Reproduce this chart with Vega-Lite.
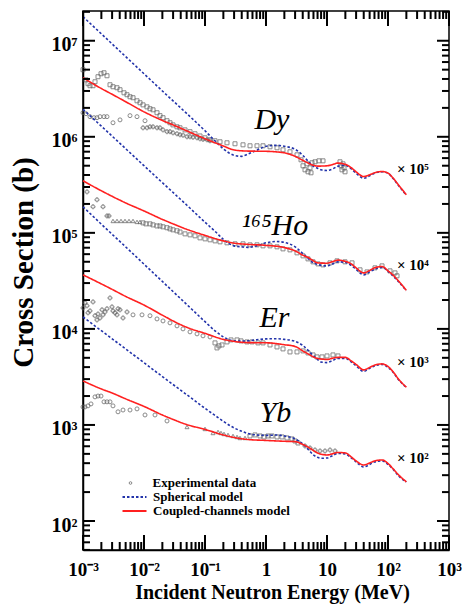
{
  "$schema": "https://vega.github.io/schema/vega-lite/v6.json",
  "width": 366,
  "height": 539,
  "autosize": "none",
  "padding": {"left": 83, "top": 11, "right": 17, "bottom": 55},
  "background": "white",
  "datasets": {
    "xticks": [
      {"E":0.001,"level":"major"},{"E":0.002,"level":"minor"},{"E":0.003,"level":"minor"},{"E":0.004,"level":"minor"},{"E":0.005,"level":"minor"},{"E":0.006,"level":"minor"},{"E":0.007,"level":"minor"},{"E":0.008,"level":"minor"},{"E":0.009,"level":"minor"},
      {"E":0.01,"level":"major"},{"E":0.02,"level":"minor"},{"E":0.03,"level":"minor"},{"E":0.04,"level":"minor"},{"E":0.05,"level":"minor"},{"E":0.06,"level":"minor"},{"E":0.07,"level":"minor"},{"E":0.08,"level":"minor"},{"E":0.09,"level":"minor"},
      {"E":0.1,"level":"major"},{"E":0.2,"level":"minor"},{"E":0.3,"level":"minor"},{"E":0.4,"level":"minor"},{"E":0.5,"level":"minor"},{"E":0.6,"level":"minor"},{"E":0.7,"level":"minor"},{"E":0.8,"level":"minor"},{"E":0.9,"level":"minor"},
      {"E":1,"level":"major"},{"E":2,"level":"minor"},{"E":3,"level":"minor"},{"E":4,"level":"minor"},{"E":5,"level":"minor"},{"E":6,"level":"minor"},{"E":7,"level":"minor"},{"E":8,"level":"minor"},{"E":9,"level":"minor"},
      {"E":10,"level":"major"},{"E":20,"level":"minor"},{"E":30,"level":"minor"},{"E":40,"level":"minor"},{"E":50,"level":"minor"},{"E":60,"level":"minor"},{"E":70,"level":"minor"},{"E":80,"level":"minor"},{"E":90,"level":"minor"},
      {"E":100,"level":"major"},{"E":200,"level":"minor"},{"E":300,"level":"minor"},{"E":400,"level":"minor"},{"E":500,"level":"minor"},{"E":600,"level":"minor"},{"E":700,"level":"minor"},{"E":800,"level":"minor"},{"E":900,"level":"minor"},
      {"E":1000,"level":"major"}
    ],
    "yticks": [
      {"sigma":50,"level":"minor"},{"sigma":60,"level":"minor"},{"sigma":70,"level":"minor"},{"sigma":80,"level":"minor"},{"sigma":90,"level":"minor"},
      {"sigma":100,"level":"major"},{"sigma":200,"level":"minor"},{"sigma":300,"level":"minor"},{"sigma":400,"level":"minor"},{"sigma":500,"level":"minor"},{"sigma":600,"level":"minor"},{"sigma":700,"level":"minor"},{"sigma":800,"level":"minor"},{"sigma":900,"level":"minor"},
      {"sigma":1000,"level":"major"},{"sigma":2000,"level":"minor"},{"sigma":3000,"level":"minor"},{"sigma":4000,"level":"minor"},{"sigma":5000,"level":"minor"},{"sigma":6000,"level":"minor"},{"sigma":7000,"level":"minor"},{"sigma":8000,"level":"minor"},{"sigma":9000,"level":"minor"},
      {"sigma":10000,"level":"major"},{"sigma":20000,"level":"minor"},{"sigma":30000,"level":"minor"},{"sigma":40000,"level":"minor"},{"sigma":50000,"level":"minor"},{"sigma":60000,"level":"minor"},{"sigma":70000,"level":"minor"},{"sigma":80000,"level":"minor"},{"sigma":90000,"level":"minor"},
      {"sigma":100000,"level":"major"},{"sigma":200000,"level":"minor"},{"sigma":300000,"level":"minor"},{"sigma":400000,"level":"minor"},{"sigma":500000,"level":"minor"},{"sigma":600000,"level":"minor"},{"sigma":700000,"level":"minor"},{"sigma":800000,"level":"minor"},{"sigma":900000,"level":"minor"},
      {"sigma":1000000,"level":"major"},{"sigma":2000000,"level":"minor"},{"sigma":3000000,"level":"minor"},{"sigma":4000000,"level":"minor"},{"sigma":5000000,"level":"minor"},{"sigma":6000000,"level":"minor"},{"sigma":7000000,"level":"minor"},{"sigma":8000000,"level":"minor"},{"sigma":9000000,"level":"minor"},
      {"sigma":10000000,"level":"major"},{"sigma":20000000,"level":"minor"}
    ],
    "curves": [
      {"nucleus":"Dy","model":"Spherical model","E":0.001,"sigma":17800000},
      {"nucleus":"Dy","model":"Spherical model","E":0.002,"sigma":11800000},
      {"nucleus":"Dy","model":"Spherical model","E":0.005,"sigma":6840000},
      {"nucleus":"Dy","model":"Spherical model","E":0.01,"sigma":4530000},
      {"nucleus":"Dy","model":"Spherical model","E":0.02,"sigma":3000000},
      {"nucleus":"Dy","model":"Spherical model","E":0.05,"sigma":1750000},
      {"nucleus":"Dy","model":"Spherical model","E":0.1,"sigma":1155000},
      {"nucleus":"Dy","model":"Spherical model","E":0.15,"sigma":890000},
      {"nucleus":"Dy","model":"Spherical model","E":0.2,"sigma":750000},
      {"nucleus":"Dy","model":"Spherical model","E":0.3,"sigma":642000},
      {"nucleus":"Dy","model":"Spherical model","E":0.4,"sigma":626000},
      {"nucleus":"Dy","model":"Spherical model","E":0.5,"sigma":658000},
      {"nucleus":"Dy","model":"Spherical model","E":0.7,"sigma":723000},
      {"nucleus":"Dy","model":"Spherical model","E":1,"sigma":796000},
      {"nucleus":"Dy","model":"Spherical model","E":1.5,"sigma":815000},
      {"nucleus":"Dy","model":"Spherical model","E":2,"sigma":796000},
      {"nucleus":"Dy","model":"Spherical model","E":3,"sigma":741000},
      {"nucleus":"Dy","model":"Spherical model","E":4,"sigma":642000},
      {"nucleus":"Dy","model":"Spherical model","E":5,"sigma":549000},
      {"nucleus":"Dy","model":"Spherical model","E":6,"sigma":493000},
      {"nucleus":"Dy","model":"Spherical model","E":7,"sigma":470000},
      {"nucleus":"Dy","model":"Spherical model","E":8,"sigma":453000},
      {"nucleus":"Dy","model":"Spherical model","E":10,"sigma":446000},
      {"nucleus":"Dy","model":"Spherical model","E":12,"sigma":459000},
      {"nucleus":"Dy","model":"Spherical model","E":15,"sigma":493000},
      {"nucleus":"Dy","model":"Spherical model","E":20,"sigma":505000},
      {"nucleus":"Dy","model":"Spherical model","E":25,"sigma":464000},
      {"nucleus":"Dy","model":"Spherical model","E":30,"sigma":417000},
      {"nucleus":"Dy","model":"Spherical model","E":40,"sigma":370000},
      {"nucleus":"Dy","model":"Spherical model","E":50,"sigma":393000},
      {"nucleus":"Dy","model":"Spherical model","E":60,"sigma":417000},
      {"nucleus":"Dy","model":"Spherical model","E":80,"sigma":432000},
      {"nucleus":"Dy","model":"Spherical model","E":100,"sigma":417000},
      {"nucleus":"Dy","model":"Spherical model","E":120,"sigma":370000},
      {"nucleus":"Dy","model":"Spherical model","E":150,"sigma":309000},
      {"nucleus":"Dy","model":"Spherical model","E":200,"sigma":246000},

      {"nucleus":"Ho","model":"Spherical model","E":0.001,"sigma":1930000},
      {"nucleus":"Ho","model":"Spherical model","E":0.002,"sigma":1290000},
      {"nucleus":"Ho","model":"Spherical model","E":0.005,"sigma":752000},
      {"nucleus":"Ho","model":"Spherical model","E":0.01,"sigma":500000},
      {"nucleus":"Ho","model":"Spherical model","E":0.02,"sigma":333000},
      {"nucleus":"Ho","model":"Spherical model","E":0.05,"sigma":195000},
      {"nucleus":"Ho","model":"Spherical model","E":0.1,"sigma":129000},
      {"nucleus":"Ho","model":"Spherical model","E":0.15,"sigma":102000},
      {"nucleus":"Ho","model":"Spherical model","E":0.2,"sigma":85500},
      {"nucleus":"Ho","model":"Spherical model","E":0.3,"sigma":73200},
      {"nucleus":"Ho","model":"Spherical model","E":0.4,"sigma":71500},
      {"nucleus":"Ho","model":"Spherical model","E":0.5,"sigma":70600},
      {"nucleus":"Ho","model":"Spherical model","E":0.7,"sigma":73200},
      {"nucleus":"Ho","model":"Spherical model","E":1,"sigma":78700},
      {"nucleus":"Ho","model":"Spherical model","E":1.5,"sigma":81200},
      {"nucleus":"Ho","model":"Spherical model","E":2,"sigma":79600},
      {"nucleus":"Ho","model":"Spherical model","E":3,"sigma":71500},
      {"nucleus":"Ho","model":"Spherical model","E":4,"sigma":61100},
      {"nucleus":"Ho","model":"Spherical model","E":5,"sigma":53500},
      {"nucleus":"Ho","model":"Spherical model","E":6,"sigma":48700},
      {"nucleus":"Ho","model":"Spherical model","E":7,"sigma":47000},
      {"nucleus":"Ho","model":"Spherical model","E":8,"sigma":45800},
      {"nucleus":"Ho","model":"Spherical model","E":10,"sigma":45300},
      {"nucleus":"Ho","model":"Spherical model","E":12,"sigma":47000},
      {"nucleus":"Ho","model":"Spherical model","E":15,"sigma":49900},
      {"nucleus":"Ho","model":"Spherical model","E":20,"sigma":49300},
      {"nucleus":"Ho","model":"Spherical model","E":25,"sigma":45800},
      {"nucleus":"Ho","model":"Spherical model","E":30,"sigma":41700},
      {"nucleus":"Ho","model":"Spherical model","E":40,"sigma":36500},
      {"nucleus":"Ho","model":"Spherical model","E":50,"sigma":39300},
      {"nucleus":"Ho","model":"Spherical model","E":60,"sigma":41700},
      {"nucleus":"Ho","model":"Spherical model","E":80,"sigma":43700},
      {"nucleus":"Ho","model":"Spherical model","E":100,"sigma":39700},
      {"nucleus":"Ho","model":"Spherical model","E":120,"sigma":35600},
      {"nucleus":"Ho","model":"Spherical model","E":150,"sigma":30900},
      {"nucleus":"Ho","model":"Spherical model","E":200,"sigma":24900},

      {"nucleus":"Er","model":"Spherical model","E":0.001,"sigma":187000},
      {"nucleus":"Er","model":"Spherical model","E":0.002,"sigma":123000},
      {"nucleus":"Er","model":"Spherical model","E":0.005,"sigma":71500},
      {"nucleus":"Er","model":"Spherical model","E":0.01,"sigma":47200},
      {"nucleus":"Er","model":"Spherical model","E":0.02,"sigma":31200},
      {"nucleus":"Er","model":"Spherical model","E":0.05,"sigma":18000},
      {"nucleus":"Er","model":"Spherical model","E":0.1,"sigma":11900},
      {"nucleus":"Er","model":"Spherical model","E":0.15,"sigma":9420},
      {"nucleus":"Er","model":"Spherical model","E":0.2,"sigma":8260},
      {"nucleus":"Er","model":"Spherical model","E":0.3,"sigma":7500},
      {"nucleus":"Er","model":"Spherical model","E":0.4,"sigma":7450},
      {"nucleus":"Er","model":"Spherical model","E":0.5,"sigma":7500},
      {"nucleus":"Er","model":"Spherical model","E":0.7,"sigma":7700},
      {"nucleus":"Er","model":"Spherical model","E":1,"sigma":7870},
      {"nucleus":"Er","model":"Spherical model","E":1.5,"sigma":7900},
      {"nucleus":"Er","model":"Spherical model","E":2,"sigma":7780},
      {"nucleus":"Er","model":"Spherical model","E":3,"sigma":7410},
      {"nucleus":"Er","model":"Spherical model","E":4,"sigma":6740},
      {"nucleus":"Er","model":"Spherical model","E":5,"sigma":5900},
      {"nucleus":"Er","model":"Spherical model","E":6,"sigma":5240},
      {"nucleus":"Er","model":"Spherical model","E":7,"sigma":4800},
      {"nucleus":"Er","model":"Spherical model","E":8,"sigma":4530},
      {"nucleus":"Er","model":"Spherical model","E":10,"sigma":4460},
      {"nucleus":"Er","model":"Spherical model","E":12,"sigma":4640},
      {"nucleus":"Er","model":"Spherical model","E":15,"sigma":4930},
      {"nucleus":"Er","model":"Spherical model","E":20,"sigma":4930},
      {"nucleus":"Er","model":"Spherical model","E":25,"sigma":4530},
      {"nucleus":"Er","model":"Spherical model","E":30,"sigma":4120},
      {"nucleus":"Er","model":"Spherical model","E":40,"sigma":3610},
      {"nucleus":"Er","model":"Spherical model","E":50,"sigma":3880},
      {"nucleus":"Er","model":"Spherical model","E":60,"sigma":4120},
      {"nucleus":"Er","model":"Spherical model","E":80,"sigma":4270},
      {"nucleus":"Er","model":"Spherical model","E":100,"sigma":3970},
      {"nucleus":"Er","model":"Spherical model","E":120,"sigma":3560},
      {"nucleus":"Er","model":"Spherical model","E":150,"sigma":2940},
      {"nucleus":"Er","model":"Spherical model","E":200,"sigma":2460},

      {"nucleus":"Yb","model":"Spherical model","E":0.001,"sigma":13300},
      {"nucleus":"Yb","model":"Spherical model","E":0.002,"sigma":9570},
      {"nucleus":"Yb","model":"Spherical model","E":0.005,"sigma":6190},
      {"nucleus":"Yb","model":"Spherical model","E":0.01,"sigma":4450},
      {"nucleus":"Yb","model":"Spherical model","E":0.02,"sigma":3190},
      {"nucleus":"Yb","model":"Spherical model","E":0.05,"sigma":2070},
      {"nucleus":"Yb","model":"Spherical model","E":0.1,"sigma":1490},
      {"nucleus":"Yb","model":"Spherical model","E":0.15,"sigma":1240},
      {"nucleus":"Yb","model":"Spherical model","E":0.2,"sigma":1090},
      {"nucleus":"Yb","model":"Spherical model","E":0.3,"sigma":931},
      {"nucleus":"Yb","model":"Spherical model","E":0.4,"sigma":860},
      {"nucleus":"Yb","model":"Spherical model","E":0.5,"sigma":815},
      {"nucleus":"Yb","model":"Spherical model","E":0.7,"sigma":787},
      {"nucleus":"Yb","model":"Spherical model","E":1,"sigma":778},
      {"nucleus":"Yb","model":"Spherical model","E":1.5,"sigma":787},
      {"nucleus":"Yb","model":"Spherical model","E":2,"sigma":768},
      {"nucleus":"Yb","model":"Spherical model","E":3,"sigma":715},
      {"nucleus":"Yb","model":"Spherical model","E":4,"sigma":634},
      {"nucleus":"Yb","model":"Spherical model","E":5,"sigma":549},
      {"nucleus":"Yb","model":"Spherical model","E":6,"sigma":487},
      {"nucleus":"Yb","model":"Spherical model","E":7,"sigma":460},
      {"nucleus":"Yb","model":"Spherical model","E":8,"sigma":450},
      {"nucleus":"Yb","model":"Spherical model","E":10,"sigma":453},
      {"nucleus":"Yb","model":"Spherical model","E":12,"sigma":475},
      {"nucleus":"Yb","model":"Spherical model","E":15,"sigma":505},
      {"nucleus":"Yb","model":"Spherical model","E":20,"sigma":499},
      {"nucleus":"Yb","model":"Spherical model","E":25,"sigma":453},
      {"nucleus":"Yb","model":"Spherical model","E":30,"sigma":412},
      {"nucleus":"Yb","model":"Spherical model","E":40,"sigma":365},
      {"nucleus":"Yb","model":"Spherical model","E":50,"sigma":388},
      {"nucleus":"Yb","model":"Spherical model","E":60,"sigma":412},
      {"nucleus":"Yb","model":"Spherical model","E":80,"sigma":422},
      {"nucleus":"Yb","model":"Spherical model","E":100,"sigma":388},
      {"nucleus":"Yb","model":"Spherical model","E":120,"sigma":348},
      {"nucleus":"Yb","model":"Spherical model","E":150,"sigma":294},
      {"nucleus":"Yb","model":"Spherical model","E":200,"sigma":255},

      {"nucleus":"Dy","model":"Coupled-channels model","E":0.001,"sigma":4120000},
      {"nucleus":"Dy","model":"Coupled-channels model","E":0.002,"sigma":3180000},
      {"nucleus":"Dy","model":"Coupled-channels model","E":0.003,"sigma":2770000},
      {"nucleus":"Dy","model":"Coupled-channels model","E":0.005,"sigma":2320000},
      {"nucleus":"Dy","model":"Coupled-channels model","E":0.01,"sigma":1820000},
      {"nucleus":"Dy","model":"Coupled-channels model","E":0.02,"sigma":1480000},
      {"nucleus":"Dy","model":"Coupled-channels model","E":0.03,"sigma":1330000},
      {"nucleus":"Dy","model":"Coupled-channels model","E":0.05,"sigma":1155000},
      {"nucleus":"Dy","model":"Coupled-channels model","E":0.1,"sigma":955000},
      {"nucleus":"Dy","model":"Coupled-channels model","E":0.2,"sigma":802000},
      {"nucleus":"Dy","model":"Coupled-channels model","E":0.3,"sigma":729000},
      {"nucleus":"Dy","model":"Coupled-channels model","E":0.5,"sigma":710000},
      {"nucleus":"Dy","model":"Coupled-channels model","E":1,"sigma":706000},
      {"nucleus":"Dy","model":"Coupled-channels model","E":2,"sigma":681000},
      {"nucleus":"Dy","model":"Coupled-channels model","E":3,"sigma":626000},
      {"nucleus":"Dy","model":"Coupled-channels model","E":4,"sigma":569000},
      {"nucleus":"Dy","model":"Coupled-channels model","E":5,"sigma":530000},
      {"nucleus":"Dy","model":"Coupled-channels model","E":6,"sigma":505000},
      {"nucleus":"Dy","model":"Coupled-channels model","E":7,"sigma":495000},
      {"nucleus":"Dy","model":"Coupled-channels model","E":10,"sigma":499000},
      {"nucleus":"Dy","model":"Coupled-channels model","E":12,"sigma":511000},
      {"nucleus":"Dy","model":"Coupled-channels model","E":15,"sigma":532000},
      {"nucleus":"Dy","model":"Coupled-channels model","E":20,"sigma":517000},
      {"nucleus":"Dy","model":"Coupled-channels model","E":25,"sigma":476000},
      {"nucleus":"Dy","model":"Coupled-channels model","E":30,"sigma":432000},
      {"nucleus":"Dy","model":"Coupled-channels model","E":40,"sigma":386000},
      {"nucleus":"Dy","model":"Coupled-channels model","E":50,"sigma":402000},
      {"nucleus":"Dy","model":"Coupled-channels model","E":60,"sigma":422000},
      {"nucleus":"Dy","model":"Coupled-channels model","E":80,"sigma":435000},
      {"nucleus":"Dy","model":"Coupled-channels model","E":100,"sigma":419000},
      {"nucleus":"Dy","model":"Coupled-channels model","E":120,"sigma":374000},
      {"nucleus":"Dy","model":"Coupled-channels model","E":150,"sigma":313000},
      {"nucleus":"Dy","model":"Coupled-channels model","E":200,"sigma":249000},

      {"nucleus":"Ho","model":"Coupled-channels model","E":0.001,"sigma":348000},
      {"nucleus":"Ho","model":"Coupled-channels model","E":0.002,"sigma":274000},
      {"nucleus":"Ho","model":"Coupled-channels model","E":0.003,"sigma":240000},
      {"nucleus":"Ho","model":"Coupled-channels model","E":0.005,"sigma":205000},
      {"nucleus":"Ho","model":"Coupled-channels model","E":0.01,"sigma":169000},
      {"nucleus":"Ho","model":"Coupled-channels model","E":0.02,"sigma":138000},
      {"nucleus":"Ho","model":"Coupled-channels model","E":0.03,"sigma":124000},
      {"nucleus":"Ho","model":"Coupled-channels model","E":0.05,"sigma":109000},
      {"nucleus":"Ho","model":"Coupled-channels model","E":0.1,"sigma":94100},
      {"nucleus":"Ho","model":"Coupled-channels model","E":0.2,"sigma":82500},
      {"nucleus":"Ho","model":"Coupled-channels model","E":0.3,"sigma":78100},
      {"nucleus":"Ho","model":"Coupled-channels model","E":0.5,"sigma":75900},
      {"nucleus":"Ho","model":"Coupled-channels model","E":1,"sigma":74100},
      {"nucleus":"Ho","model":"Coupled-channels model","E":2,"sigma":70300},
      {"nucleus":"Ho","model":"Coupled-channels model","E":3,"sigma":64900},
      {"nucleus":"Ho","model":"Coupled-channels model","E":4,"sigma":58600},
      {"nucleus":"Ho","model":"Coupled-channels model","E":5,"sigma":55000},
      {"nucleus":"Ho","model":"Coupled-channels model","E":6,"sigma":51100},
      {"nucleus":"Ho","model":"Coupled-channels model","E":7,"sigma":48700},
      {"nucleus":"Ho","model":"Coupled-channels model","E":10,"sigma":48300},
      {"nucleus":"Ho","model":"Coupled-channels model","E":12,"sigma":49900},
      {"nucleus":"Ho","model":"Coupled-channels model","E":15,"sigma":52000},
      {"nucleus":"Ho","model":"Coupled-channels model","E":20,"sigma":50500},
      {"nucleus":"Ho","model":"Coupled-channels model","E":25,"sigma":47500},
      {"nucleus":"Ho","model":"Coupled-channels model","E":30,"sigma":43200},
      {"nucleus":"Ho","model":"Coupled-channels model","E":40,"sigma":38300},
      {"nucleus":"Ho","model":"Coupled-channels model","E":50,"sigma":40600},
      {"nucleus":"Ho","model":"Coupled-channels model","E":60,"sigma":43200},
      {"nucleus":"Ho","model":"Coupled-channels model","E":80,"sigma":44600},
      {"nucleus":"Ho","model":"Coupled-channels model","E":100,"sigma":40200},
      {"nucleus":"Ho","model":"Coupled-channels model","E":120,"sigma":36500},
      {"nucleus":"Ho","model":"Coupled-channels model","E":150,"sigma":31300},
      {"nucleus":"Ho","model":"Coupled-channels model","E":200,"sigma":25200},

      {"nucleus":"Er","model":"Coupled-channels model","E":0.001,"sigma":36500},
      {"nucleus":"Er","model":"Coupled-channels model","E":0.002,"sigma":29400},
      {"nucleus":"Er","model":"Coupled-channels model","E":0.003,"sigma":25800},
      {"nucleus":"Er","model":"Coupled-channels model","E":0.005,"sigma":21800},
      {"nucleus":"Er","model":"Coupled-channels model","E":0.01,"sigma":17700},
      {"nucleus":"Er","model":"Coupled-channels model","E":0.02,"sigma":13900},
      {"nucleus":"Er","model":"Coupled-channels model","E":0.03,"sigma":12100},
      {"nucleus":"Er","model":"Coupled-channels model","E":0.05,"sigma":10400},
      {"nucleus":"Er","model":"Coupled-channels model","E":0.1,"sigma":8980},
      {"nucleus":"Er","model":"Coupled-channels model","E":0.2,"sigma":7780},
      {"nucleus":"Er","model":"Coupled-channels model","E":0.3,"sigma":7410},
      {"nucleus":"Er","model":"Coupled-channels model","E":0.5,"sigma":7200},
      {"nucleus":"Er","model":"Coupled-channels model","E":1,"sigma":7170},
      {"nucleus":"Er","model":"Coupled-channels model","E":2,"sigma":6840},
      {"nucleus":"Er","model":"Coupled-channels model","E":3,"sigma":6570},
      {"nucleus":"Er","model":"Coupled-channels model","E":4,"sigma":5900},
      {"nucleus":"Er","model":"Coupled-channels model","E":5,"sigma":5450},
      {"nucleus":"Er","model":"Coupled-channels model","E":6,"sigma":5110},
      {"nucleus":"Er","model":"Coupled-channels model","E":7,"sigma":4930},
      {"nucleus":"Er","model":"Coupled-channels model","E":10,"sigma":4810},
      {"nucleus":"Er","model":"Coupled-channels model","E":12,"sigma":4930},
      {"nucleus":"Er","model":"Coupled-channels model","E":15,"sigma":5050},
      {"nucleus":"Er","model":"Coupled-channels model","E":20,"sigma":5050},
      {"nucleus":"Er","model":"Coupled-channels model","E":25,"sigma":4640},
      {"nucleus":"Er","model":"Coupled-channels model","E":30,"sigma":4270},
      {"nucleus":"Er","model":"Coupled-channels model","E":40,"sigma":3740},
      {"nucleus":"Er","model":"Coupled-channels model","E":50,"sigma":3970},
      {"nucleus":"Er","model":"Coupled-channels model","E":60,"sigma":4190},
      {"nucleus":"Er","model":"Coupled-channels model","E":80,"sigma":4320},
      {"nucleus":"Er","model":"Coupled-channels model","E":100,"sigma":4060},
      {"nucleus":"Er","model":"Coupled-channels model","E":120,"sigma":3610},
      {"nucleus":"Er","model":"Coupled-channels model","E":150,"sigma":2980},
      {"nucleus":"Er","model":"Coupled-channels model","E":200,"sigma":2470},

      {"nucleus":"Yb","model":"Coupled-channels model","E":0.001,"sigma":2870},
      {"nucleus":"Yb","model":"Coupled-channels model","E":0.002,"sigma":2370},
      {"nucleus":"Yb","model":"Coupled-channels model","E":0.003,"sigma":2150},
      {"nucleus":"Yb","model":"Coupled-channels model","E":0.005,"sigma":1870},
      {"nucleus":"Yb","model":"Coupled-channels model","E":0.01,"sigma":1560},
      {"nucleus":"Yb","model":"Coupled-channels model","E":0.02,"sigma":1270},
      {"nucleus":"Yb","model":"Coupled-channels model","E":0.03,"sigma":1140},
      {"nucleus":"Yb","model":"Coupled-channels model","E":0.05,"sigma":1010},
      {"nucleus":"Yb","model":"Coupled-channels model","E":0.1,"sigma":898},
      {"nucleus":"Yb","model":"Coupled-channels model","E":0.2,"sigma":787},
      {"nucleus":"Yb","model":"Coupled-channels model","E":0.3,"sigma":741},
      {"nucleus":"Yb","model":"Coupled-channels model","E":0.5,"sigma":706},
      {"nucleus":"Yb","model":"Coupled-channels model","E":1,"sigma":690},
      {"nucleus":"Yb","model":"Coupled-channels model","E":2,"sigma":676},
      {"nucleus":"Yb","model":"Coupled-channels model","E":3,"sigma":670},
      {"nucleus":"Yb","model":"Coupled-channels model","E":4,"sigma":627},
      {"nucleus":"Yb","model":"Coupled-channels model","E":5,"sigma":583},
      {"nucleus":"Yb","model":"Coupled-channels model","E":6,"sigma":542},
      {"nucleus":"Yb","model":"Coupled-channels model","E":7,"sigma":511},
      {"nucleus":"Yb","model":"Coupled-channels model","E":10,"sigma":487},
      {"nucleus":"Yb","model":"Coupled-channels model","E":12,"sigma":499},
      {"nucleus":"Yb","model":"Coupled-channels model","E":15,"sigma":517},
      {"nucleus":"Yb","model":"Coupled-channels model","E":20,"sigma":511},
      {"nucleus":"Yb","model":"Coupled-channels model","E":25,"sigma":464},
      {"nucleus":"Yb","model":"Coupled-channels model","E":30,"sigma":422},
      {"nucleus":"Yb","model":"Coupled-channels model","E":40,"sigma":383},
      {"nucleus":"Yb","model":"Coupled-channels model","E":50,"sigma":402},
      {"nucleus":"Yb","model":"Coupled-channels model","E":60,"sigma":422},
      {"nucleus":"Yb","model":"Coupled-channels model","E":80,"sigma":432},
      {"nucleus":"Yb","model":"Coupled-channels model","E":100,"sigma":397},
      {"nucleus":"Yb","model":"Coupled-channels model","E":120,"sigma":352},
      {"nucleus":"Yb","model":"Coupled-channels model","E":150,"sigma":301},
      {"nucleus":"Yb","model":"Coupled-channels model","E":200,"sigma":256}
    ],
    "points": [
      {"nucleus":"Dy","kind":"square","E":0.001,"sigma":4990000},
      {"nucleus":"Dy","kind":"square","E":0.00112,"sigma":3920000},
      {"nucleus":"Dy","kind":"square","E":0.001208,"sigma":3570000},
      {"nucleus":"Dy","kind":"square","E":0.001302,"sigma":3400000},
      {"nucleus":"Dy","kind":"square","E":0.001459,"sigma":3400000},
      {"nucleus":"Dy","kind":"square","E":0.001573,"sigma":3740000},
      {"nucleus":"Dy","kind":"square","E":0.001762,"sigma":4220000},
      {"nucleus":"Dy","kind":"square","E":0.001973,"sigma":4530000},
      {"nucleus":"Dy","kind":"square","E":0.002209,"sigma":4640000},
      {"nucleus":"Dy","kind":"square","E":0.002474,"sigma":4320000},
      {"nucleus":"Dy","kind":"square","E":0.002771,"sigma":3480000},
      {"nucleus":"Dy","kind":"square","E":0.003103,"sigma":3320000},
      {"nucleus":"Dy","kind":"square","E":0.003609,"sigma":3240000},
      {"nucleus":"Dy","kind":"square","E":0.004042,"sigma":3090000},
      {"nucleus":"Dy","kind":"square","E":0.004701,"sigma":2870000},
      {"nucleus":"Dy","kind":"square","E":0.005265,"sigma":2740000},
      {"nucleus":"Dy","kind":"square","E":0.005896,"sigma":2610000},
      {"nucleus":"Dy","kind":"square","E":0.006603,"sigma":2550000},
      {"nucleus":"Dy","kind":"square","E":0.007679,"sigma":2370000},
      {"nucleus":"Dy","kind":"square","E":0.0086,"sigma":2260000},
      {"nucleus":"Dy","kind":"square","E":0.009631,"sigma":2150000},
      {"nucleus":"Dy","kind":"square","E":0.0112,"sigma":2050000},
      {"nucleus":"Dy","kind":"square","E":0.01254,"sigma":1960000},
      {"nucleus":"Dy","kind":"square","E":0.01405,"sigma":1910000},
      {"nucleus":"Dy","kind":"square","E":0.01634,"sigma":1780000},
      {"nucleus":"Dy","kind":"square","E":0.01829,"sigma":1660000},
      {"nucleus":"Dy","kind":"square","E":0.02049,"sigma":1580000},
      {"nucleus":"Dy","kind":"square","E":0.02383,"sigma":1470000},
      {"nucleus":"Dy","kind":"square","E":0.02668,"sigma":1400000},
      {"nucleus":"Dy","kind":"square","E":0.02988,"sigma":1330000},
      {"nucleus":"Dy","kind":"square","E":0.03476,"sigma":1270000},
      {"nucleus":"Dy","kind":"square","E":0.03892,"sigma":1240000},
      {"nucleus":"Dy","kind":"square","E":0.04701,"sigma":1180000},
      {"nucleus":"Dy","kind":"square","E":0.05677,"sigma":1130000},
      {"nucleus":"Dy","kind":"square","E":0.06857,"sigma":1075000},
      {"nucleus":"Dy","kind":"square","E":0.08281,"sigma":1020000},
      {"nucleus":"Dy","kind":"square","E":0.1,"sigma":976000},
      {"nucleus":"Dy","kind":"square","E":0.1208,"sigma":931000},
      {"nucleus":"Dy","kind":"square","E":0.1459,"sigma":909000},
      {"nucleus":"Dy","kind":"square","E":0.1762,"sigma":887000},
      {"nucleus":"Dy","kind":"square","E":0.2294,"sigma":866000},
      {"nucleus":"Dy","kind":"square","E":0.3103,"sigma":846000},
      {"nucleus":"Dy","kind":"square","E":0.4198,"sigma":825000},
      {"nucleus":"Dy","kind":"square","E":0.5467,"sigma":806000},
      {"nucleus":"Dy","kind":"square","E":0.7121,"sigma":806000},
      {"nucleus":"Dy","kind":"square","E":0.8931,"sigma":806000},
      {"nucleus":"Dy","kind":"square","E":1.163,"sigma":787000},
      {"nucleus":"Dy","kind":"square","E":1.515,"sigma":768000},
      {"nucleus":"Dy","kind":"square","E":1.9,"sigma":732000},
      {"nucleus":"Dy","kind":"square","E":2.474,"sigma":698000},
      {"nucleus":"Dy","kind":"square","E":3.223,"sigma":649000},
      {"nucleus":"Dy","kind":"square","E":3.748,"sigma":576000},
      {"nucleus":"Dy","kind":"square","E":4.042,"sigma":499000},
      {"nucleus":"Dy","kind":"square","E":4.359,"sigma":453000},
      {"nucleus":"Dy","kind":"square","E":4.701,"sigma":523000},
      {"nucleus":"Dy","kind":"square","E":4.882,"sigma":432000},
      {"nucleus":"Dy","kind":"square","E":5.265,"sigma":475000},
      {"nucleus":"Dy","kind":"square","E":5.467,"sigma":422000},
      {"nucleus":"Dy","kind":"square","E":5.677,"sigma":536000},
      {"nucleus":"Dy","kind":"square","E":6.358,"sigma":549000},
      {"nucleus":"Dy","kind":"square","E":7.395,"sigma":562000},
      {"nucleus":"Dy","kind":"square","E":8.6,"sigma":562000},
      {"nucleus":"Dy","kind":"square","E":16.34,"sigma":549000},
      {"nucleus":"Dy","kind":"square","E":16.96,"sigma":499000},
      {"nucleus":"Dy","kind":"square","E":17.62,"sigma":453000},
      {"nucleus":"Dy","kind":"square","E":18.29,"sigma":523000},
      {"nucleus":"Dy","kind":"square","E":19.0,"sigma":475000},
      {"nucleus":"Dy","kind":"square","E":19.73,"sigma":432000},
      {"nucleus":"Dy","kind":"circle","E":0.001,"sigma":1780000},
      {"nucleus":"Dy","kind":"circle","E":0.00112,"sigma":1740000},
      {"nucleus":"Dy","kind":"circle","E":0.001302,"sigma":1620000},
      {"nucleus":"Dy","kind":"circle","E":0.001515,"sigma":1580000},
      {"nucleus":"Dy","kind":"circle","E":0.001696,"sigma":1580000},
      {"nucleus":"Dy","kind":"circle","E":0.0019,"sigma":1620000},
      {"nucleus":"Dy","kind":"circle","E":0.002209,"sigma":1620000},
      {"nucleus":"Dy","kind":"circle","E":0.002474,"sigma":1620000},
      {"nucleus":"Dy","kind":"circle","E":0.003103,"sigma":1400000},
      {"nucleus":"Dy","kind":"circle","E":0.004042,"sigma":1500000},
      {"nucleus":"Dy","kind":"circle","E":0.005896,"sigma":1660000},
      {"nucleus":"Dy","kind":"circle","E":0.007679,"sigma":1620000},
      {"nucleus":"Dy","kind":"circle","E":0.010385,"sigma":1470000},
      {"nucleus":"Dy","kind":"cross","E":0.009631,"sigma":1240000},
      {"nucleus":"Dy","kind":"cross","E":0.0112,"sigma":1240000},
      {"nucleus":"Dy","kind":"cross","E":0.01254,"sigma":1270000},
      {"nucleus":"Dy","kind":"cross","E":0.01405,"sigma":1270000},
      {"nucleus":"Dy","kind":"cross","E":0.01634,"sigma":1240000},
      {"nucleus":"Dy","kind":"cross","E":0.01829,"sigma":1240000},
      {"nucleus":"Dy","kind":"cross","E":0.02049,"sigma":1180000},
      {"nucleus":"Dy","kind":"cross","E":0.02383,"sigma":1130000},
      {"nucleus":"Dy","kind":"cross","E":0.02668,"sigma":1130000},
      {"nucleus":"Dy","kind":"cross","E":0.02988,"sigma":1100000},
      {"nucleus":"Dy","kind":"cross","E":0.03476,"sigma":1075000},
      {"nucleus":"Dy","kind":"cross","E":0.03892,"sigma":1050000},
      {"nucleus":"Dy","kind":"cross","E":0.04359,"sigma":1040000},
      {"nucleus":"Dy","kind":"cross","E":0.0507,"sigma":1000000},
      {"nucleus":"Dy","kind":"cross","E":0.05677,"sigma":1000000},
      {"nucleus":"Dy","kind":"cross","E":0.06358,"sigma":990000},
      {"nucleus":"Dy","kind":"cross","E":0.07395,"sigma":976000},
      {"nucleus":"Dy","kind":"cross","E":0.08281,"sigma":953000},
      {"nucleus":"Dy","kind":"cross","E":0.09274,"sigma":942000},
      {"nucleus":"Dy","kind":"cross","E":0.1078,"sigma":931000},
      {"nucleus":"Dy","kind":"cross","E":0.1208,"sigma":909000},

      {"nucleus":"Ho","kind":"cross","E":0.001163,"sigma":267000},
      {"nucleus":"Ho","kind":"cross","E":0.001459,"sigma":187000},
      {"nucleus":"Ho","kind":"cross","E":0.001696,"sigma":221000},
      {"nucleus":"Ho","kind":"cross","E":0.002128,"sigma":187000},
      {"nucleus":"Ho","kind":"cross","E":0.002474,"sigma":150000},
      {"nucleus":"Ho","kind":"cross","E":0.002668,"sigma":150000},
      {"nucleus":"Ho","kind":"triangle","E":0.003103,"sigma":133000},
      {"nucleus":"Ho","kind":"triangle","E":0.003609,"sigma":133000},
      {"nucleus":"Ho","kind":"triangle","E":0.004198,"sigma":133000},
      {"nucleus":"Ho","kind":"triangle","E":0.004882,"sigma":133000},
      {"nucleus":"Ho","kind":"triangle","E":0.005677,"sigma":133000},
      {"nucleus":"Ho","kind":"triangle","E":0.006603,"sigma":133000},
      {"nucleus":"Ho","kind":"triangle","E":0.007679,"sigma":130000},
      {"nucleus":"Ho","kind":"triangle","E":0.0086,"sigma":130000},
      {"nucleus":"Ho","kind":"square","E":0.009631,"sigma":127000},
      {"nucleus":"Ho","kind":"square","E":0.01078,"sigma":124000},
      {"nucleus":"Ho","kind":"square","E":0.01254,"sigma":124000},
      {"nucleus":"Ho","kind":"square","E":0.01405,"sigma":121000},
      {"nucleus":"Ho","kind":"square","E":0.01634,"sigma":118000},
      {"nucleus":"Ho","kind":"square","E":0.01829,"sigma":118000},
      {"nucleus":"Ho","kind":"square","E":0.02049,"sigma":115500},
      {"nucleus":"Ho","kind":"square","E":0.02383,"sigma":113000},
      {"nucleus":"Ho","kind":"square","E":0.02668,"sigma":110000},
      {"nucleus":"Ho","kind":"square","E":0.02988,"sigma":107500},
      {"nucleus":"Ho","kind":"square","E":0.03476,"sigma":105000},
      {"nucleus":"Ho","kind":"square","E":0.03892,"sigma":102000},
      {"nucleus":"Ho","kind":"square","E":0.04701,"sigma":97600},
      {"nucleus":"Ho","kind":"square","E":0.05677,"sigma":95300},
      {"nucleus":"Ho","kind":"square","E":0.06857,"sigma":93100},
      {"nucleus":"Ho","kind":"square","E":0.08281,"sigma":88700},
      {"nucleus":"Ho","kind":"square","E":0.1,"sigma":86600},
      {"nucleus":"Ho","kind":"square","E":0.1208,"sigma":84600},
      {"nucleus":"Ho","kind":"square","E":0.1459,"sigma":82500},
      {"nucleus":"Ho","kind":"square","E":0.1762,"sigma":80600},
      {"nucleus":"Ho","kind":"square","E":0.2294,"sigma":78700},
      {"nucleus":"Ho","kind":"square","E":0.3103,"sigma":76800},
      {"nucleus":"Ho","kind":"square","E":0.4198,"sigma":76800},
      {"nucleus":"Ho","kind":"square","E":0.5467,"sigma":75000},
      {"nucleus":"Ho","kind":"square","E":0.7121,"sigma":75000},
      {"nucleus":"Ho","kind":"square","E":0.8931,"sigma":73200},
      {"nucleus":"Ho","kind":"square","E":1.163,"sigma":73200},
      {"nucleus":"Ho","kind":"square","E":1.515,"sigma":71500},
      {"nucleus":"Ho","kind":"square","E":1.9,"sigma":68100},
      {"nucleus":"Ho","kind":"square","E":2.474,"sigma":66500},
      {"nucleus":"Ho","kind":"square","E":3.223,"sigma":61900},
      {"nucleus":"Ho","kind":"square","E":4.042,"sigma":57600},
      {"nucleus":"Ho","kind":"square","E":4.882,"sigma":53600},
      {"nucleus":"Ho","kind":"square","E":5.896,"sigma":49900},
      {"nucleus":"Ho","kind":"square","E":7.121,"sigma":47500},
      {"nucleus":"Ho","kind":"square","E":8.6,"sigma":46400},
      {"nucleus":"Ho","kind":"square","E":11.2,"sigma":48700},
      {"nucleus":"Ho","kind":"square","E":14.59,"sigma":51100},
      {"nucleus":"Ho","kind":"square","E":19.73,"sigma":49900},
      {"nucleus":"Ho","kind":"square","E":25.7,"sigma":48700},
      {"nucleus":"Ho","kind":"square","E":34.76,"sigma":41200},
      {"nucleus":"Ho","kind":"square","E":45.27,"sigma":39200},
      {"nucleus":"Ho","kind":"square","E":61.23,"sigma":43200},
      {"nucleus":"Ho","kind":"square","E":79.75,"sigma":45300},
      {"nucleus":"Ho","kind":"square","E":107.8,"sigma":40200},
      {"nucleus":"Ho","kind":"square","E":130.2,"sigma":38300},
      {"nucleus":"Ho","kind":"square","E":140.5,"sigma":35700},

      {"nucleus":"Er","kind":"cross","E":0.001,"sigma":16550},
      {"nucleus":"Er","kind":"cross","E":0.001078,"sigma":18700},
      {"nucleus":"Er","kind":"cross","E":0.001163,"sigma":17400},
      {"nucleus":"Er","kind":"cross","E":0.001208,"sigma":14700},
      {"nucleus":"Er","kind":"cross","E":0.001302,"sigma":15400},
      {"nucleus":"Er","kind":"cross","E":0.001459,"sigma":19100},
      {"nucleus":"Er","kind":"cross","E":0.001573,"sigma":13700},
      {"nucleus":"Er","kind":"cross","E":0.001696,"sigma":12400},
      {"nucleus":"Er","kind":"cross","E":0.001762,"sigma":14300},
      {"nucleus":"Er","kind":"cross","E":0.0019,"sigma":13000},
      {"nucleus":"Er","kind":"cross","E":0.002049,"sigma":15800},
      {"nucleus":"Er","kind":"cross","E":0.002128,"sigma":14000},
      {"nucleus":"Er","kind":"cross","E":0.002294,"sigma":15000},
      {"nucleus":"Er","kind":"cross","E":0.002474,"sigma":16200},
      {"nucleus":"Er","kind":"cross","E":0.002771,"sigma":21000},
      {"nucleus":"Er","kind":"cross","E":0.002988,"sigma":16950},
      {"nucleus":"Er","kind":"cross","E":0.003103,"sigma":15400},
      {"nucleus":"Er","kind":"cross","E":0.003347,"sigma":14700},
      {"nucleus":"Er","kind":"cross","E":0.003609,"sigma":14000},
      {"nucleus":"Er","kind":"cross","E":0.003748,"sigma":16200},
      {"nucleus":"Er","kind":"cross","E":0.004042,"sigma":15800},
      {"nucleus":"Er","kind":"cross","E":0.004527,"sigma":13000},
      {"nucleus":"Er","kind":"cross","E":0.005265,"sigma":15000},
      {"nucleus":"Er","kind":"circle","E":0.006603,"sigma":14000},
      {"nucleus":"Er","kind":"circle","E":0.009274,"sigma":14000},
      {"nucleus":"Er","kind":"circle","E":0.01254,"sigma":13700},
      {"nucleus":"Er","kind":"circle","E":0.01634,"sigma":12700},
      {"nucleus":"Er","kind":"circle","E":0.02049,"sigma":12100},
      {"nucleus":"Er","kind":"circle","E":0.02668,"sigma":11550},
      {"nucleus":"Er","kind":"circle","E":0.03476,"sigma":10750},
      {"nucleus":"Er","kind":"circle","E":0.04359,"sigma":10000},
      {"nucleus":"Er","kind":"circle","E":0.05677,"sigma":9310},
      {"nucleus":"Er","kind":"circle","E":0.07395,"sigma":8870},
      {"nucleus":"Er","kind":"circle","E":0.09274,"sigma":8460},
      {"nucleus":"Er","kind":"circle","E":0.1208,"sigma":8250},
      {"nucleus":"Er","kind":"square","E":0.1459,"sigma":7150},
      {"nucleus":"Er","kind":"square","E":0.1573,"sigma":6340},
      {"nucleus":"Er","kind":"square","E":0.1696,"sigma":6650},
      {"nucleus":"Er","kind":"square","E":0.19,"sigma":6810},
      {"nucleus":"Er","kind":"square","E":0.2294,"sigma":7320},
      {"nucleus":"Er","kind":"square","E":0.2668,"sigma":7680},
      {"nucleus":"Er","kind":"square","E":0.3347,"sigma":7680},
      {"nucleus":"Er","kind":"square","E":0.3892,"sigma":7500},
      {"nucleus":"Er","kind":"square","E":0.4882,"sigma":7320},
      {"nucleus":"Er","kind":"square","E":0.5896,"sigma":7320},
      {"nucleus":"Er","kind":"square","E":0.7395,"sigma":7150},
      {"nucleus":"Er","kind":"square","E":0.8931,"sigma":7150},
      {"nucleus":"Er","kind":"square","E":1.163,"sigma":6810},
      {"nucleus":"Er","kind":"square","E":1.515,"sigma":6490},
      {"nucleus":"Er","kind":"square","E":1.9,"sigma":6190},
      {"nucleus":"Er","kind":"square","E":2.474,"sigma":5760},
      {"nucleus":"Er","kind":"square","E":3.223,"sigma":5760},
      {"nucleus":"Er","kind":"square","E":4.042,"sigma":5900},
      {"nucleus":"Er","kind":"square","E":4.882,"sigma":5620},
      {"nucleus":"Er","kind":"square","E":5.896,"sigma":5360},
      {"nucleus":"Er","kind":"square","E":6.857,"sigma":5110},
      {"nucleus":"Er","kind":"square","E":8.281,"sigma":5110},
      {"nucleus":"Er","kind":"square","E":10,"sigma":5230},
      {"nucleus":"Er","kind":"square","E":12.54,"sigma":5360},
      {"nucleus":"Er","kind":"square","E":15.15,"sigma":5230},

      {"nucleus":"Yb","kind":"circle","E":0.001,"sigma":1540},
      {"nucleus":"Yb","kind":"circle","E":0.001078,"sigma":1540},
      {"nucleus":"Yb","kind":"circle","E":0.001208,"sigma":1580},
      {"nucleus":"Yb","kind":"circle","E":0.001353,"sigma":1655},
      {"nucleus":"Yb","kind":"circle","E":0.001573,"sigma":1960},
      {"nucleus":"Yb","kind":"circle","E":0.001762,"sigma":2000},
      {"nucleus":"Yb","kind":"circle","E":0.001973,"sigma":2000},
      {"nucleus":"Yb","kind":"circle","E":0.002209,"sigma":1740},
      {"nucleus":"Yb","kind":"circle","E":0.002474,"sigma":1740},
      {"nucleus":"Yb","kind":"circle","E":0.002771,"sigma":1740},
      {"nucleus":"Yb","kind":"circle","E":0.003103,"sigma":1580},
      {"nucleus":"Yb","kind":"circle","E":0.003748,"sigma":1370},
      {"nucleus":"Yb","kind":"circle","E":0.004527,"sigma":1430},
      {"nucleus":"Yb","kind":"circle","E":0.005896,"sigma":1430},
      {"nucleus":"Yb","kind":"circle","E":0.007679,"sigma":1470},
      {"nucleus":"Yb","kind":"circle","E":0.010385,"sigma":1270},
      {"nucleus":"Yb","kind":"circle","E":0.01515,"sigma":1270},
      {"nucleus":"Yb","kind":"circle","E":0.02383,"sigma":1100},
      {"nucleus":"Yb","kind":"triangle","E":0.0507,"sigma":953},
      {"nucleus":"Yb","kind":"triangle","E":0.1,"sigma":909},
      {"nucleus":"Yb","kind":"triangle","E":0.1353,"sigma":825},
      {"nucleus":"Yb","kind":"triangle","E":0.1634,"sigma":846},
      {"nucleus":"Yb","kind":"triangle","E":0.1829,"sigma":825},
      {"nucleus":"Yb","kind":"triangle","E":0.2049,"sigma":806},
      {"nucleus":"Yb","kind":"triangle","E":0.2383,"sigma":787},
      {"nucleus":"Yb","kind":"triangle","E":0.2878,"sigma":768},
      {"nucleus":"Yb","kind":"triangle","E":0.3347,"sigma":750},
      {"nucleus":"Yb","kind":"triangle","E":0.3748,"sigma":732},
      {"nucleus":"Yb","kind":"triangle","E":0.4527,"sigma":732},
      {"nucleus":"Yb","kind":"square","E":0.5467,"sigma":768},
      {"nucleus":"Yb","kind":"square","E":0.6603,"sigma":787},
      {"nucleus":"Yb","kind":"square","E":0.7975,"sigma":768},
      {"nucleus":"Yb","kind":"square","E":0.9274,"sigma":750},
      {"nucleus":"Yb","kind":"square","E":1.078,"sigma":768},
      {"nucleus":"Yb","kind":"square","E":1.254,"sigma":768},
      {"nucleus":"Yb","kind":"square","E":1.515,"sigma":750},
      {"nucleus":"Yb","kind":"square","E":1.829,"sigma":750},
      {"nucleus":"Yb","kind":"square","E":2.209,"sigma":732},
      {"nucleus":"Yb","kind":"square","E":2.668,"sigma":715},
      {"nucleus":"Yb","kind":"square","E":2.988,"sigma":681},
      {"nucleus":"Yb","kind":"square","E":3.347,"sigma":649},
      {"nucleus":"Yb","kind":"cross","E":4.359,"sigma":604},
      {"nucleus":"Yb","kind":"cross","E":5.265,"sigma":576},
      {"nucleus":"Yb","kind":"cross","E":6.358,"sigma":549},
      {"nucleus":"Yb","kind":"cross","E":7.679,"sigma":536},
      {"nucleus":"Yb","kind":"cross","E":9.274,"sigma":536},
      {"nucleus":"Yb","kind":"cross","E":11.2,"sigma":549},
      {"nucleus":"Yb","kind":"cross","E":13.53,"sigma":536}
    ],
    "names": [
      {"E":1.25,"sigma":1210000,"name":"Dy"},
      {"E":1.405,"sigma":95300,"name":"¹⁶⁵Ho"},
      {"E":1.377,"sigma":10500,"name":"Er"},
      {"E":1.43,"sigma":1070,"name":"Yb"}
    ],
    "factors": [
      {"E":140,"sigma":412000,"label":"× 10⁵"},
      {"E":140,"sigma":41200,"label":"× 10⁴"},
      {"E":140,"sigma":4050,"label":"× 10³"},
      {"E":140,"sigma":398,"label":"× 10²"}
    ]
  },
  "layer": [
    {
      "data": {"name": "points"},
      "mark": {"type": "point", "filled": false, "size": 16, "strokeWidth": 1, "color": "#5a5a5a"},
      "encoding": {
        "x": {"field": "E", "type": "quantitative", "axis": null},
        "y": {"field": "sigma", "type": "quantitative", "axis": null},
        "shape": {"field": "kind", "type": "nominal",
          "scale": {"domain": ["square", "circle", "cross", "triangle"], "range": ["square", "circle", "cross", "triangle-up"]},
          "legend": {
            "orient": "none", "legendX": 41, "legendY": 465.5, "title": null, "padding": 0,
            "values": ["circle"], "labelExpr": "'Experimental data'",
            "symbolSize": 7, "symbolStrokeColor": "#555555", "symbolFillColor": "#555555", "symbolStrokeWidth": 1,
            "labelFont": "Liberation Serif", "labelFontWeight": "bold", "labelFontSize": 13, "labelColor": "#000000",
            "labelOffset": 15.5
          }
        }
      }
    },
    {
      "data": {"name": "curves"},
      "mark": {"type": "line", "interpolate": "monotone", "strokeWidth": 1.6},
      "encoding": {
        "x": {"field": "E", "type": "quantitative",
          "scale": {"type": "log", "domain": [0.001, 1000], "nice": false},
          "axis": {
            "orient": "bottom",
            "title": "Incident Neutron Energy (MeV)",
            "values": [0.001, 0.01, 0.1, 1, 10, 100, 1000],
            "labelExpr": "datum.value == 0.001 ? '10⁻³' : datum.value == 0.01 ? '10⁻²' : datum.value == 0.1 ? '10⁻¹' : datum.value == 1 ? '1' : datum.value == 10 ? '10' : datum.value == 100 ? '10²' : '10³'",
            "ticks": false,
            "labelFontSize": 19,
            "labelBaseline": "alphabetic",
            "labelPadding": 25,
            "titleFontSize": 20,
            "titleX": 189,
            "titleY": 48,
            "titleBaseline": "alphabetic",
            "titleAlign": "center"
          }
        },
        "y": {"field": "sigma", "type": "quantitative",
          "scale": {"type": "log", "domain": [49.9, 20400000], "nice": false},
          "axis": {
            "orient": "left",
            "title": "Cross Section (b)",
            "values": [100, 1000, 10000, 100000, 1000000, 10000000],
            "labelExpr": "datum.value == 100 ? '10²' : datum.value == 1000 ? '10³' : datum.value == 10000 ? '10⁴' : datum.value == 100000 ? '10⁵' : datum.value == 1000000 ? '10⁶' : '10⁷'",
            "ticks": false,
            "labelFontSize": 20,
            "labelAlign": "right",
            "labelBaseline": "alphabetic",
            "labelOffset": 10,
            "labelPadding": 6,
            "titleFontSize": 29,
            "titleAngle": 270,
            "titleX": -51,
            "titleY": 251,
            "titleBaseline": "alphabetic",
            "titleAlign": "center"
          }
        },
        "detail": {"field": "nucleus", "type": "nominal"},
        "color": {"field": "model", "type": "nominal",
          "scale": {"domain": ["Experimental data", "Spherical model", "Coupled-channels model"], "range": ["#555555", "#2233aa", "#ff2020"]},
          "legend": {
            "orient": "none",
            "legendX": 44.5,
            "legendY": 479,
            "title": null,
            "padding": 0,
            "values": ["Spherical model", "Coupled-channels model"],
            "symbolType": "M-2,0L2,0",
            "symbolSize": 144,
            "symbolStrokeWidth": 1.8,
            "labelFont": "Liberation Serif",
            "labelFontWeight": "bold",
            "labelFontSize": 13,
            "labelColor": "#000000",
            "labelOffset": 11.5,
            "rowPadding": 0
          }
        },
        "strokeDash": {"field": "model", "type": "nominal", "legend": null,
          "scale": {"domain": ["Experimental data", "Spherical model", "Coupled-channels model"], "range": [[1, 0], [2.5, 2], [1, 0]]}}
      }
    },
    {
      "data": {"name": "names"},
      "mark": {"type": "text", "font": "Liberation Serif", "fontStyle": "italic", "fontSize": 30, "align": "center", "baseline": "alphabetic", "color": "#000000"},
      "encoding": {
        "x": {"field": "E", "type": "quantitative", "axis": null},
        "y": {"field": "sigma", "type": "quantitative", "axis": null},
        "text": {"field": "name"}
      }
    },
    {
      "data": {"name": "factors"},
      "mark": {"type": "text", "font": "Liberation Serif", "fontWeight": "bold", "fontSize": 15, "align": "left", "baseline": "alphabetic", "color": "#000000"},
      "encoding": {
        "x": {"field": "E", "type": "quantitative", "axis": null},
        "y": {"field": "sigma", "type": "quantitative", "axis": null},
        "text": {"field": "label"}
      }
    },
    {
      "data": {"name": "xticks"},
      "transform": [{"filter": "datum.level == 'major'"}],
      "mark": {"type": "tick", "orient": "vertical", "thickness": 2, "size": 15, "yOffset": -7.5, "color": "#000000", "opacity": 1},
      "encoding": {
        "x": {"field": "E", "type": "quantitative", "axis": null},
        "y": {"datum": 49.9, "type": "quantitative", "axis": null}
      }
    },
    {
      "data": {"name": "xticks"},
      "transform": [{"filter": "datum.level == 'minor'"}],
      "mark": {"type": "tick", "orient": "vertical", "thickness": 2, "size": 8, "yOffset": -4, "color": "#000000", "opacity": 1},
      "encoding": {
        "x": {"field": "E", "type": "quantitative", "axis": null},
        "y": {"datum": 49.9, "type": "quantitative", "axis": null}
      }
    },
    {
      "data": {"name": "xticks"},
      "transform": [{"filter": "datum.level == 'major'"}],
      "mark": {"type": "tick", "orient": "vertical", "thickness": 2, "size": 15, "yOffset": 7.5, "color": "#000000", "opacity": 1},
      "encoding": {
        "x": {"field": "E", "type": "quantitative", "axis": null},
        "y": {"datum": 20400000, "type": "quantitative", "axis": null}
      }
    },
    {
      "data": {"name": "xticks"},
      "transform": [{"filter": "datum.level == 'minor'"}],
      "mark": {"type": "tick", "orient": "vertical", "thickness": 2, "size": 8, "yOffset": 4, "color": "#000000", "opacity": 1},
      "encoding": {
        "x": {"field": "E", "type": "quantitative", "axis": null},
        "y": {"datum": 20400000, "type": "quantitative", "axis": null}
      }
    },
    {
      "data": {"name": "yticks"},
      "transform": [{"filter": "datum.level == 'major'"}],
      "mark": {"type": "tick", "orient": "horizontal", "thickness": 2, "size": 12, "xOffset": 6, "color": "#000000", "opacity": 1},
      "encoding": {
        "x": {"datum": 0.001, "type": "quantitative", "axis": null},
        "y": {"field": "sigma", "type": "quantitative", "axis": null}
      }
    },
    {
      "data": {"name": "yticks"},
      "transform": [{"filter": "datum.level == 'minor'"}],
      "mark": {"type": "tick", "orient": "horizontal", "thickness": 2, "size": 7, "xOffset": 3.5, "color": "#000000", "opacity": 1},
      "encoding": {
        "x": {"datum": 0.001, "type": "quantitative", "axis": null},
        "y": {"field": "sigma", "type": "quantitative", "axis": null}
      }
    },
    {
      "data": {"name": "yticks"},
      "transform": [{"filter": "datum.level == 'major'"}],
      "mark": {"type": "tick", "orient": "horizontal", "thickness": 2, "size": 12, "xOffset": -6, "color": "#000000", "opacity": 1},
      "encoding": {
        "x": {"datum": 1000, "type": "quantitative", "axis": null},
        "y": {"field": "sigma", "type": "quantitative", "axis": null}
      }
    },
    {
      "data": {"name": "yticks"},
      "transform": [{"filter": "datum.level == 'minor'"}],
      "mark": {"type": "tick", "orient": "horizontal", "thickness": 2, "size": 7, "xOffset": -3.5, "color": "#000000", "opacity": 1},
      "encoding": {
        "x": {"datum": 1000, "type": "quantitative", "axis": null},
        "y": {"field": "sigma", "type": "quantitative", "axis": null}
      }
    }
  ],
  "resolve": {"axis": {"x": "independent", "y": "independent"}},
  "config": {
    "view": {"stroke": "#000000", "strokeWidth": 1.5},
    "font": "Liberation Serif",
    "axis": {
      "domainColor": "#000000", "domainWidth": 1.5,
      "grid": false,
      "labelFont": "Liberation Serif", "labelFontWeight": "bold", "labelColor": "#000000",
      "titleFont": "Liberation Serif", "titleFontWeight": "bold", "titleColor": "#000000",
      "labelOverlap": false, "labelBound": false, "labelFlush": false
    }
  }
}
